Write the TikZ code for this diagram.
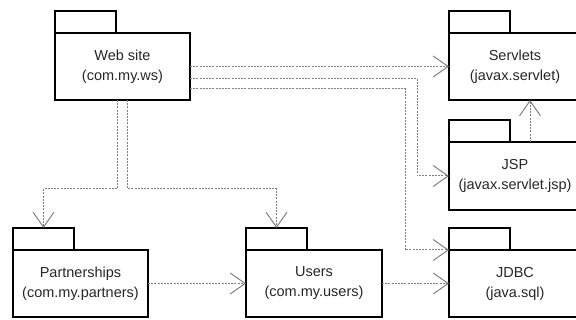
\documentclass[tikz,border=0pt]{standalone}
\usepackage{fontspec}
\setmainfont{Liberation Sans}
\usepackage{tikz}
\usetikzlibrary{arrows.meta, positioning, calc}
\usepackage{xcolor}

\begin{document}
\begin{tikzpicture}[
    x=1pt, y=1pt,
    pkg/.style={draw, line width=2.2pt, outer sep=0pt, minimum width=135pt, minimum height=67pt,
        font=\fontsize{14.5}{20}\selectfont, text=black!85, align=center},
    tab/.style={draw, line width=2.2pt, outer sep=0pt, minimum width=61pt, minimum height=22pt,
        above right=0pt of #1.north west},
    dep/.style={-{Straight Barb[length=15pt, width=21pt]}, black!50, line width=1pt,
        dash pattern=on 2pt off 1.2pt}
]
\useasboundingbox (0,0) rectangle (576,320);
% packages
\node (ws) [pkg] at (122.5,253.5) {Web site\\(com.my.ws)};
\node (servlets) [pkg, minimum width=132pt] at (515,253.5) {Servlets\\(javax.servlet)};
\node (jsp) [pkg, minimum width=132pt, minimum height=68pt, below=42pt of servlets] {JSP\\(javax.servlet.jsp)};
\node (jdbc) [pkg, minimum width=132pt, below=40pt of jsp] {JDBC\\(java.sql)};
\node (users) [pkg, minimum width=136pt, left=67pt of jdbc] {Users\\(com.my.users)};
\node (partners) [pkg, left=98pt of users] {Partnerships\\(com.my.partners)};
% tabs
\node (ws tab) [tab=ws] {};
\node (servlets tab) [tab=servlets] {};
\node (jsp tab) [tab=jsp] {};
\node (jdbc tab) [tab=jdbc] {};
\node (users tab) [tab=users] {};
\node (partners tab) [tab=partners] {};
% dependencies
\draw[dep] (ws) -- (servlets);
\draw[dep] ([yshift=-12pt]ws.east) -| ([xshift=-32pt]jsp.west) -- (jsp.west);
\draw[dep] ([yshift=-22pt]ws.east) -| ([xshift=-44pt]jdbc.north west) -- (jdbc.north west);
\draw[dep] ([xshift=15pt]jsp.north) -- ([xshift=15pt]servlets.south);
\draw[dep] ([xshift=-5pt]ws.south) -- ++(0,-89pt) -| (partners tab.north);
\draw[dep] ([xshift=5pt]ws.south) -- ++(0,-89pt) -| (users tab.north);
\draw[dep] (partners) -- (users);
\draw[dep] (users) -- (jdbc);
\end{tikzpicture}
\end{document}
